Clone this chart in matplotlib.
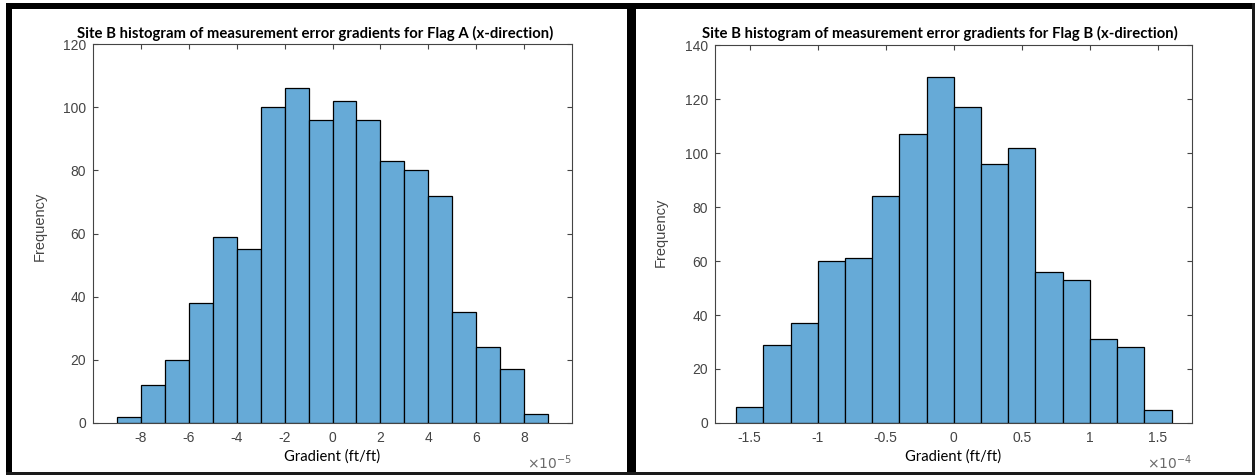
import numpy as np
import matplotlib
matplotlib.use("Agg")
import matplotlib.pyplot as plt
from matplotlib.patches import Rectangle
from matplotlib.ticker import FuncFormatter, MultipleLocator

# ---- data -------------------------------------------------------------
flag_a_edges = np.arange(-9, 10) * 1e-5          # bin edges, width 1e-5
flag_a_counts = [2, 12, 20, 38, 59, 55, 100, 106, 96,
                 102, 96, 83, 80, 72, 35, 24, 17, 3]
flag_a_ticks = [-8e-5, -6e-5, -4e-5, -2e-5, 0, 2e-5, 4e-5, 6e-5, 8e-5]

flag_b_edges = np.round(np.arange(-16, 17, 2) * 1e-5, 12)   # bin edges, width 0.2e-4
flag_b_counts = [6, 29, 37, 60, 61, 84, 107, 128,
                 117, 96, 102, 56, 53, 31, 28, 5]
flag_b_ticks = [-1.5e-4, -1e-4, -0.5e-4, 0, 0.5e-4, 1e-4, 1.5e-4]

titles = ["Site B histogram of measurement error gradients for Flag A (x-direction)",
          "Site B histogram of measurement error gradients for Flag B (x-direction)"]
x_label = "Gradient (ft/ft)"
y_label = "Frequency"

# ---- style ------------------------------------------------------------
W, H = 1255, 475
DPI = 100
BAR_FACE = "#66AAD7"
AX_GREY = "#444444"
TICK_FONT = "Liberation Sans"
TEXT_FONT = "Lato"

fig = plt.figure(figsize=(W / DPI, H / DPI), dpi=DPI)
fig.patch.set_facecolor("white")


def box(x0, y0, x1, y1):
    """Figure rectangle from pixel coordinates (origin top-left)."""
    return [x0 / W, 1 - y1 / H, (x1 - x0) / W, (y1 - y0) / H]


def px_rect(x0, y0, x1, y1, color="black"):
    l, b, w, h = box(x0, y0, x1, y1)
    fig.add_artist(Rectangle((l, b), w, h, transform=fig.transFigure,
                             facecolor=color, edgecolor="none", zorder=10))


def tick_text(v, sc):
    r = round(v / sc, 6)
    return "0" if r == 0 else f"{r:g}"


panels = [
    dict(pos=(93, 44, 572, 423), edges=flag_a_edges, counts=flag_a_counts,
         ticks=flag_a_ticks, scale=1e-5, exp=-5, xlim=(-10e-5, 10e-5),
         ylim=(0, 120), title_x=315, ylab_x=47, ylab_y=226),
    dict(pos=(715, 45, 1192, 423), edges=flag_b_edges, counts=flag_b_counts,
         ticks=flag_b_ticks, scale=1e-4, exp=-4, xlim=(-1.755e-4, 1.75e-4),
         ylim=(0, 140), title_x=940, ylab_x=668, ylab_y=232),
]

title_artists = []
xlabel_artists = []
for i, p in enumerate(panels):
    x0, y0, x1, y1 = p["pos"]
    ax = fig.add_axes(box(x0, y0, x1, y1))
    edges = p["edges"]
    ax.bar(edges[:-1], p["counts"], width=np.diff(edges), align="edge",
           color=BAR_FACE, edgecolor="black", linewidth=0.9, zorder=2)
    ax.set_xlim(*p["xlim"])
    ax.set_ylim(*p["ylim"])
    ax.set_xticks(p["ticks"])
    ax.yaxis.set_major_locator(MultipleLocator(20))
    sc = p["scale"]
    ax.xaxis.set_major_formatter(FuncFormatter(lambda v, pos, sc=sc: tick_text(v, sc)))
    ax.yaxis.set_major_formatter(FuncFormatter(lambda v, pos: f"{v:g}"))
    for s in ax.spines.values():
        s.set_color(AX_GREY)
        s.set_linewidth(0.8)
    ax.tick_params(which="both", direction="in", top=True, right=True,
                   length=3.6, width=0.8, color=AX_GREY,
                   labelcolor=AX_GREY, labelsize=10)
    ax.tick_params(axis="x", pad=6)
    ax.tick_params(axis="y", pad=5)
    for lab in ax.get_xticklabels() + ax.get_yticklabels():
        lab.set_fontfamily(TICK_FONT)

    ax.set_ylabel(y_label, fontsize=10.5, color=AX_GREY, family=TICK_FONT)
    ax.yaxis.set_label_coords((p["ylab_x"] - x0) / (x1 - x0),
                              (y1 - p["ylab_y"]) / (y1 - y0))

    # exponent multiplier at the lower right of the x axis
    ax.text(1.0, (y1 - 463) / (y1 - y0), rf"$\times10^{{{p['exp']}}}$",
            transform=ax.transAxes, ha="right", va="center",
            fontsize=10, color="#6a6a6a", family=TICK_FONT)

    t = fig.text(p["title_x"] / W, 1 - 33 / H, titles[i], ha="center",
                 va="center", fontsize=10, fontweight="bold", color="black",
                 family=TEXT_FONT)
    title_artists.append(t)
    xl = fig.text(((x0 + x1) / 2) / W, 1 - 457 / H, x_label, ha="center",
                  va="center", fontsize=11, color="black", family=TEXT_FONT)
    xlabel_artists.append(xl)

# size the title and axis-label text to their intended widths
fig.canvas.draw()
renderer = fig.canvas.get_renderer()
for t in title_artists:
    w = t.get_window_extent(renderer).width
    t.set_fontsize(t.get_fontsize() * 475 / w)
for t in xlabel_artists:
    w = t.get_window_extent(renderer).width
    t.set_fontsize(t.get_fontsize() * 96 / w)

# black frame around and between the two panels
px_rect(6, 3, 1255, 9)
px_rect(6, 3, 12, 475)
px_rect(627, 3, 636, 475)
px_rect(1252, 3, 1255, 475, "#1a1a1a")
px_rect(6, 472, 1255, 475, "#1a1a1a")

fig.savefig("out.png", dpi=DPI, facecolor="white")
